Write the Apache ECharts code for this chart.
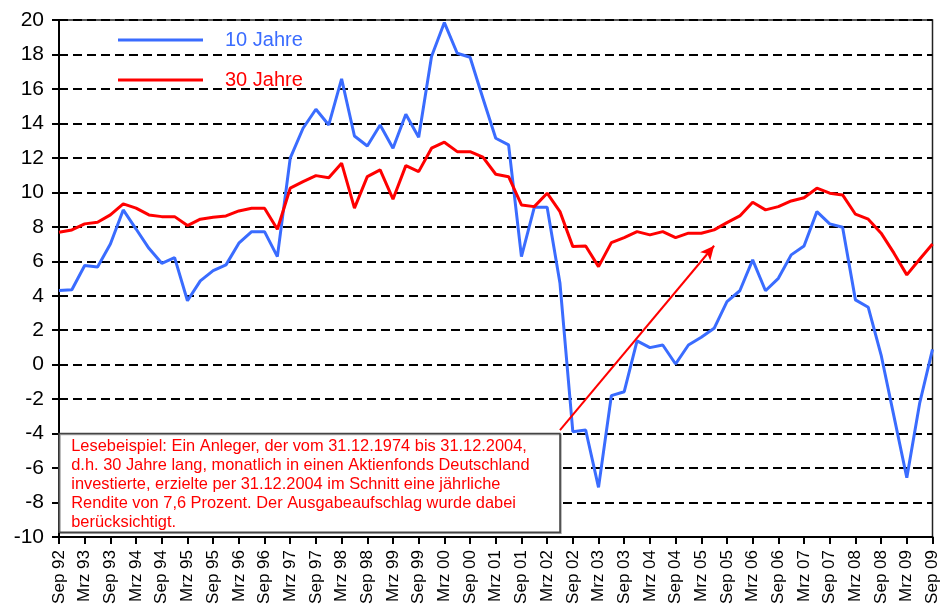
<!DOCTYPE html>
<html>
<head>
<meta charset="utf-8">
<script src="https://cdn.jsdelivr.net/npm/echarts@6/dist/echarts.min.js"></script>
<style>
html, body { margin: 0; padding: 0; background: #fff; }
#myChart { width: 941px; height: 612px; }
</style>
</head>
<body>
<div id="myChart"></div>
<script>
var myChart = echarts.init(document.getElementById('myChart'));
window.onresize = myChart.resize;

// Quartale Sep 92 bis Sep 09
var categories = [
    'Sep 92', 'Dez 92',
    'Mrz 93', 'Jun 93', 'Sep 93', 'Dez 93',
    'Mrz 94', 'Jun 94', 'Sep 94', 'Dez 94',
    'Mrz 95', 'Jun 95', 'Sep 95', 'Dez 95',
    'Mrz 96', 'Jun 96', 'Sep 96', 'Dez 96',
    'Mrz 97', 'Jun 97', 'Sep 97', 'Dez 97',
    'Mrz 98', 'Jun 98', 'Sep 98', 'Dez 98',
    'Mrz 99', 'Jun 99', 'Sep 99', 'Dez 99',
    'Mrz 00', 'Jun 00', 'Sep 00', 'Dez 00',
    'Mrz 01', 'Jun 01', 'Sep 01', 'Dez 01',
    'Mrz 02', 'Jun 02', 'Sep 02', 'Dez 02',
    'Mrz 03', 'Jun 03', 'Sep 03', 'Dez 03',
    'Mrz 04', 'Jun 04', 'Sep 04', 'Dez 04',
    'Mrz 05', 'Jun 05', 'Sep 05', 'Dez 05',
    'Mrz 06', 'Jun 06', 'Sep 06', 'Dez 06',
    'Mrz 07', 'Jun 07', 'Sep 07', 'Dez 07',
    'Mrz 08', 'Jun 08', 'Sep 08', 'Dez 08',
    'Mrz 09', 'Jun 09', 'Sep 09'
];

// Rendite p.a. in Prozent
var zehnJahre = [
    4.3, 4.35, 5.75, 5.67, 7.0, 8.98, 7.87, 6.75, 5.88, 6.21,
    3.71, 4.86, 5.46, 5.79, 7.05, 7.72, 7.72, 6.27, 11.98, 13.72,
    14.82, 13.91, 16.58, 13.27, 12.69, 13.91, 12.56, 14.53, 13.2, 17.88,
    19.85, 18.07, 17.84, 15.46, 13.14, 12.75, 6.27, 9.13, 9.13, 4.72,
    -3.89, -3.79, -7.12, -1.8, -1.57, 1.38, 0.99, 1.14, 0.04, 1.14,
    1.59, 2.11, 3.66, 4.29, 6.08, 4.29, 5.01, 6.37, 6.89, 8.88,
    8.17, 7.97, 3.76, 3.33, 0.56, -3.0, -6.56, -2.24, 0.89
];
var dreissigJahre = [
    7.68, 7.82, 8.17, 8.26, 8.69, 9.33, 9.08, 8.69, 8.59, 8.59,
    8.07, 8.44, 8.55, 8.63, 8.92, 9.08, 9.08, 7.86, 10.24, 10.62,
    10.97, 10.85, 11.69, 9.08, 10.91, 11.3, 9.6, 11.55, 11.2, 12.56,
    12.91, 12.36, 12.36, 12.04, 11.05, 10.91, 9.27, 9.17, 9.95, 8.88,
    6.85, 6.89, 5.69, 7.08, 7.37, 7.72, 7.53, 7.72, 7.37, 7.63,
    7.63, 7.82, 8.24, 8.63, 9.42, 8.98, 9.17, 9.5, 9.69, 10.24,
    9.95, 9.85, 8.73, 8.44, 7.63, 6.47, 5.21, 6.12, 7.0
];

var yTicks = [-10, -8, -6, -4, -2, 0, 2, 4, 6, 8, 10, 12, 14, 16, 18, 20];

// Pfeil (Trend) und Textkasten in Datenkoordinaten
var pfeilStart = ['Jun 02', -3.8];
var pfeilEnde = ['Jun 05', 6.9];
var kastenVon = ['Sep 92', -4];
var kastenBis = ['Jun 02', -9.73];

var lesebeispiel = 'Lesebeispiel: Ein Anleger, der vom 31.12.1974 bis 31.12.2004,\n' +
    'd.h. 30 Jahre lang, monatlich in einen Aktienfonds Deutschland\n' +
    'investierte, erzielte per 31.12.2004 im Schnitt eine jährliche\n' +
    'Rendite von 7,6 Prozent. Der Ausgabeaufschlag wurde dabei\n' +
    'berücksichtigt.';

var font = '"Liberation Sans", Arial, sans-serif';
var blau = '#3a6cff';
var rot = '#ff0000';

myChart.setOption({
    animation: false,
    backgroundColor: '#fff',
    textStyle: {fontFamily: font},
    grid: {left: 59, right: 7, top: 20, bottom: 75, show: true, borderColor: '#222', borderWidth: 1.5, backgroundColor: 'transparent'},
    legend: {
        orient: 'vertical', left: 118, top: 30, padding: 0,
        icon: 'rect', itemWidth: 85, itemHeight: 3, itemGap: 20,
        textStyle: {fontSize: 20, fontFamily: font, padding: [0, 0, 0, 17]},
        data: [
            {name: '10 Jahre', textStyle: {color: blau}},
            {name: '30 Jahre', textStyle: {color: rot}}
        ]
    },
    xAxis: {
        type: 'category', data: categories, boundaryGap: false,
        axisLine: {onZero: false, lineStyle: {color: '#000', width: 2}},
        axisTick: {interval: 1, length: 7, lineStyle: {color: '#000', width: 2}},
        axisLabel: {interval: 1, rotate: 90, fontSize: 17, color: '#000', margin: 13, fontFamily: font},
        splitLine: {show: false}
    },
    yAxis: {
        type: 'value', min: yTicks[0], max: yTicks[yTicks.length - 1], interval: 2,
        axisLine: {show: true, lineStyle: {color: '#000', width: 2}},
        axisTick: {show: true, length: 7, lineStyle: {color: '#000', width: 2}},
        axisLabel: {fontSize: 21, color: '#000', margin: 15, fontFamily: font},
        splitLine: {show: true, lineStyle: {color: '#000', width: 2, type: [9, 5]}}
    },
    series: [
        {
            name: '10 Jahre', type: 'line', data: zehnJahre, symbol: 'none',
            lineStyle: {color: blau, width: 3}, itemStyle: {color: blau}, z: 3
        },
        {
            name: '30 Jahre', type: 'line', data: dreissigJahre, symbol: 'none',
            lineStyle: {color: rot, width: 3}, itemStyle: {color: rot}, z: 4,
            markLine: {
                silent: true, animation: false,
                symbol: ['none', 'arrow'], symbolSize: [10, 14],
                label: {show: false},
                lineStyle: {color: rot, width: 2, type: 'solid'},
                data: [[{coord: pfeilStart}, {coord: pfeilEnde}]]
            },
            markArea: {
                silent: true,
                itemStyle: {color: '#fff', borderColor: '#444', borderWidth: 1.5,
                    shadowColor: 'rgba(0,0,0,0.35)', shadowOffsetX: 1, shadowOffsetY: 1, shadowBlur: 0},
                label: {
                    show: true, position: 'insideTopLeft', distance: 0,
                    padding: [4, 0, 0, 13],
                    color: rot, fontSize: 16.4, lineHeight: 19, fontFamily: font
                },
                data: [[{xAxis: kastenVon[0], yAxis: kastenVon[1], name: lesebeispiel},
                        {xAxis: kastenBis[0], yAxis: kastenBis[1]}]]
            }
        }
    ]
});
</script>
</body>
</html>
